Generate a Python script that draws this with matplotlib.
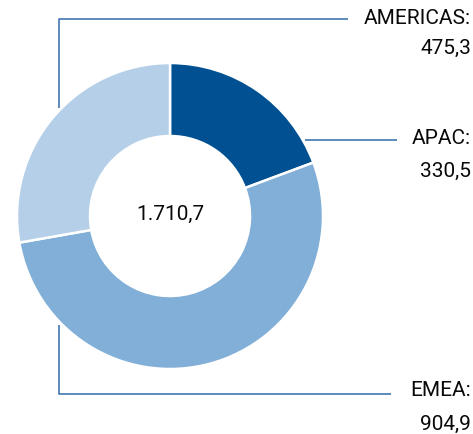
import matplotlib
matplotlib.use("Agg")
import matplotlib.pyplot as plt

# data
regions = ["APAC", "EMEA", "AMERICAS"]
values = [330.5, 904.9, 475.3]
value_labels = ["330,5", "904,9", "475,3"]
total_label = "1.710,7"
colors = ["#005092", "#82afd7", "#b6cfe8"]
line_color = "#3f78b2"

plt.rcParams["font.family"] = ["Roboto", "DejaVu Sans"]

W, H = 473, 434
fig = plt.figure(figsize=(W / 100, H / 100), dpi=100)
ax = fig.add_axes([0, 0, 1, 1])

def py(y):
    # pixel row (from top) to data y
    return H - y

cx, cy, r_out, r_in = 170, py(216), 153, 80

ax.pie(values, colors=colors, startangle=90, counterclock=False,
       center=(cx, cy), radius=r_out,
       wedgeprops=dict(width=r_out - r_in, edgecolor="white", linewidth=1.8))

ax.text(cx, py(214), total_label, ha="center", va="center", fontsize=15,
        color="#0a0a0a")

# leader lines
lw = 1.2
ax.plot([59, 59, 348], [py(108), py(19), py(19)], color=line_color, lw=lw, solid_capstyle="butt")
ax.plot([305, 397], [py(140), py(140)], color=line_color, lw=lw, solid_capstyle="butt")
ax.plot([59, 59, 391], [py(325), py(394), py(394)], color=line_color, lw=lw, solid_capstyle="butt")

# labels
label_pos = {"AMERICAS": (18, 48), "APAC": (139, 171), "EMEA": (391, 424)}
for name, val in zip(regions, value_labels):
    y1, y2 = label_pos[name]
    ax.text(471, py(y1), name + ":", ha="right", va="center", fontsize=15,
            color="#0a0a0a")
    ax.text(471, py(y2), val, ha="right", va="center", fontsize=15,
            color="#0a0a0a")

ax.set_xlim(0, W)
ax.set_ylim(0, H)
ax.set_aspect("auto")
ax.axis("off")

fig.savefig("out.png", dpi=100)
